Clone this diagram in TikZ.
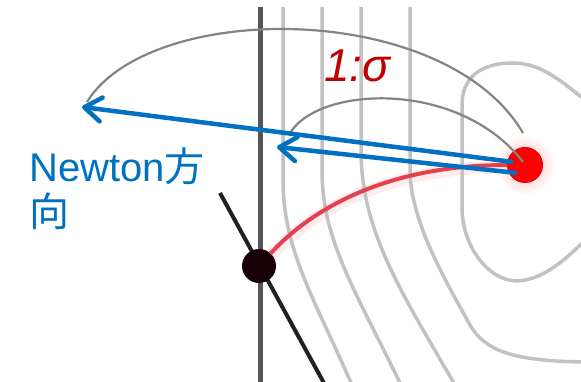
\documentclass[tikz,border=0pt]{standalone}
\usepackage{fontspec}
\setmainfont{Liberation Sans}
\newfontfamily\cjkfont{Noto Sans CJK JP}
\usetikzlibrary{arrows.meta}
\definecolor{nblue}{HTML}{0070C0}
\definecolor{sred}{HTML}{C00000}
\definecolor{contourgray}{HTML}{C2C2C2}
\definecolor{arcgray}{HTML}{85857E}
\definecolor{pathred}{HTML}{E5404F}
\definecolor{axisgray}{HTML}{555555}
\begin{document}
\begin{tikzpicture}[x=1pt,y=-1pt,
  contour/.style={draw=contourgray,line width=3.5pt},
  arcline/.style={draw=arcgray,line width=2.2pt},
  newtonarrow/.style={draw=nblue,line width=4.5pt,-{Straight Barb[length=17pt,width=24pt,round]}},
  dotstyle/.style={circle,inner sep=0pt,minimum size=34pt},
  bluetext/.style={text=nblue,inner sep=0pt,font=\fontsize{40}{46}\selectfont},
]
\useasboundingbox[fill=white] (0,0) rectangle (581,382);

% halos
\shade[inner color=red!30,outer color=white] (525,165) circle (30pt);
\draw[line width=12pt,red!7,line cap=round] (262,265) .. controls (320,200) and (400,165) .. (520,167);

% contour lines
\draw[contour] (283,7) -- (283,180) .. controls (283,250) and (315,300) .. (352,385);
\draw[contour] (322,7) -- (322,170) .. controls (322,240) and (355,290) .. (401,385);
\draw[contour] (361,7) -- (361,150) .. controls (361,230) and (400,290) .. (455,385);
\draw[contour] (410,7) -- (410,170) .. controls (410,220) and (445,280) .. (470,325)
   .. controls (485,350) and (510,361) .. (585,362);
\draw[contour] (585,100) .. controls (560,80) and (540,63) .. (513,63)
   .. controls (480,63) and (462,78) .. (462,105) -- (462,210)
   .. controls (463,240) and (480,270) .. (505,279)
   .. controls (530,287) and (558,268) .. (585,240);

% axes
\draw[axisgray,line width=5pt] (260,7) -- (260,385);
\draw[black!87,line width=4pt] (220,193) -- (325,385);

% dots
\node[dotstyle,fill={rgb,255:red,22;green,0;blue,6}] (B) at (259,266) {};
\node[dotstyle,minimum size=35pt,fill=red,draw={rgb,255:red,228;green,0;blue,20},line width=1pt] (R) at (525,165) {};

% red path
\draw[pathred,line width=4pt] (B) .. controls (320,200) and (400,165) .. (R);

% coordinates
\coordinate (a1s) at (513,162);
\coordinate (a1t) at (82,107);
\coordinate (a2s) at (517,173);
\coordinate (a2t) at (277,147);
\coordinate (c1s) at (87,102);
\coordinate (c1e) at (523,133);
\coordinate (c2s) at (290,133);
\coordinate (c2e) at (523,162);

% gray arcs
\draw[arcline] (c1s) .. controls (150,0) and (445,0) .. (c1e);
\draw[arcline] (c2s) .. controls (320,85) and (460,80) .. (c2e);

% blue arrows
\draw[newtonarrow] (a1s) -- (a1t);
\draw[newtonarrow] (a2s) -- (a2t);

% texts
\node[anchor=base west,text=sred,inner sep=0pt,font=\fontsize{46}{50}\selectfont\itshape] (ratio) at (324,82) {1:σ};
\node[bluetext,anchor=base west] (nt1) at (29,182) {Newton{\cjkfont 方}};
\node[bluetext,anchor=base west] (nt2) at (29,227) {{\cjkfont 向}};
\end{tikzpicture}
\end{document}
